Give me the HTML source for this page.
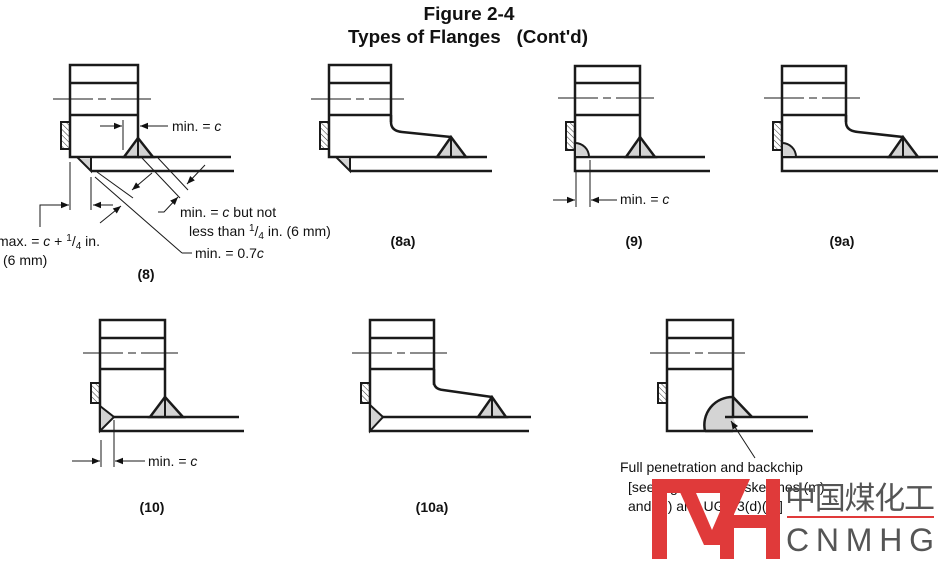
<!DOCTYPE html>
<html><head><meta charset="utf-8"><style>
html,body{margin:0;padding:0;background:#fff;}
svg{display:block;font-family:"Liberation Sans",Arial,sans-serif;}
.t{font-size:14px;fill:#111;}
.b{font-size:14px;font-weight:bold;fill:#111;}
</style></head><body>
<svg width="938" height="564" viewBox="0 0 938 564" xmlns="http://www.w3.org/2000/svg">
<defs>
<marker id="a" viewBox="0 0 10 10" refX="10" refY="5" markerWidth="10" markerHeight="8" orient="auto" markerUnits="userSpaceOnUse"><path d="M0,1 L10,5 L0,9 z" fill="#111"/></marker>
<pattern id="h" width="4" height="4" patternUnits="userSpaceOnUse" patternTransform="rotate(-45)"><line x1="0" y1="0" x2="0" y2="4" stroke="#333" stroke-width="1"/></pattern>
</defs>
<text x="469" y="20" text-anchor="middle" style="font-size:18px;font-weight:bold" fill="#111" textLength="91" lengthAdjust="spacingAndGlyphs">Figure 2-4</text>
<text x="468" y="43" text-anchor="middle" style="font-size:18px;font-weight:bold" fill="#111" xml:space="preserve" textLength="240" lengthAdjust="spacingAndGlyphs">Types of Flanges   (Cont'd)</text>

<g stroke="#1a1a1a" fill="none">
<!-- Fig 8 -->
<g stroke-width="2.5">
<rect x="70" y="65" width="68" height="92"/>
<line x1="70" y1="83" x2="138" y2="83"/><line x1="70" y1="115" x2="138" y2="115"/>
<line x1="138" y1="157" x2="231" y2="157"/><line x1="91" y1="171" x2="234" y2="171"/>
</g>
<rect x="61" y="122" width="9" height="27" fill="url(#h)" stroke-width="2"/>
<polygon points="124,157 153,157 138,138" fill="#d4d4d4" stroke-width="2.5"/><line x1="138" y1="138" x2="138" y2="157" stroke-width="2"/>
<polygon points="77,157 91,157 91,171" fill="#d4d4d4" stroke-width="2"/>
<line x1="53" y1="99" x2="152" y2="99" stroke-width="1" stroke-dasharray="40,5,8,5"/>
<g stroke-width="1">
<line x1="123" y1="120" x2="123" y2="150"/>
<line x1="100" y1="126" x2="122" y2="126" marker-end="url(#a)"/>
<line x1="168" y1="126" x2="140" y2="126" marker-end="url(#a)"/>
<line x1="70" y1="162" x2="70" y2="210"/><line x1="91" y1="177" x2="91" y2="210"/>
<polyline points="40,227 40,205 69,205" marker-end="url(#a)"/>
<line x1="113" y1="205" x2="93" y2="205" marker-end="url(#a)"/>
<line x1="100" y1="223" x2="121" y2="206" marker-end="url(#a)"/>
<line x1="97" y1="172" x2="133" y2="198"/>
<line x1="95" y1="177" x2="182" y2="253"/><line x1="182" y1="253" x2="192" y2="253"/>
<line x1="152" y1="173" x2="132" y2="190" marker-end="url(#a)"/>
<line x1="142" y1="158" x2="180" y2="198"/><line x1="158" y1="158" x2="188" y2="190"/>
<line x1="205" y1="165" x2="187" y2="184" marker-end="url(#a)"/>
<polyline points="158,212 164,212 178,197" marker-end="url(#a)"/>
</g>
<!-- Fig 8a -->
<g stroke-width="2.5">
<polyline points="391,122 391,65 329,65 329,157 487,157"/>
<line x1="329" y1="83" x2="391" y2="83"/><line x1="329" y1="115" x2="391" y2="115"/>
<path d="M391,115 L391,122 Q391,131 402,132 L451,137"/>
<line x1="350" y1="171" x2="492" y2="171"/>
</g>
<rect x="320" y="122" width="9" height="27" fill="url(#h)" stroke-width="2"/>
<polygon points="437,157 466,157 451,137" fill="#d4d4d4" stroke-width="2.5"/><line x1="451" y1="137" x2="451" y2="157" stroke-width="2"/>
<polygon points="336,157 350,157 350,171" fill="#d4d4d4" stroke-width="2"/>
<line x1="311" y1="99" x2="404" y2="99" stroke-width="1" stroke-dasharray="40,5,8,5"/>
<!-- Fig 9 -->
<g stroke-width="2.5">
<polyline points="640,157 640,66 575,66 575,171 710,171"/>
<line x1="575" y1="83" x2="640" y2="83"/><line x1="575" y1="115" x2="640" y2="115"/>
<line x1="575" y1="157" x2="705" y2="157"/>
</g>
<rect x="566" y="122" width="9" height="28" fill="url(#h)" stroke-width="2"/>
<path d="M575,143 A14,14 0 0 1 589,157 L575,157 z" fill="#d4d4d4" stroke-width="2"/>
<polygon points="626,157 655,157 640,137" fill="#d4d4d4" stroke-width="2.5"/><line x1="640" y1="137" x2="640" y2="157" stroke-width="2"/>
<line x1="558" y1="98" x2="654" y2="98" stroke-width="1" stroke-dasharray="40,5,8,5"/>
<g stroke-width="1">
<line x1="576" y1="172" x2="576" y2="207"/><line x1="590" y1="160" x2="590" y2="207"/>
<line x1="553" y1="200" x2="575" y2="200" marker-end="url(#a)"/>
<line x1="617" y1="200" x2="591" y2="200" marker-end="url(#a)"/>
</g>
<!-- Fig 9a -->
<g stroke-width="2.5">
<polyline points="846,122 846,66 782,66 782,171 938,171"/>
<line x1="782" y1="83" x2="846" y2="83"/><line x1="782" y1="115" x2="846" y2="115"/>
<path d="M846,115 L846,122 Q846,131 858,132 L903,137"/>
<line x1="782" y1="157" x2="938" y2="157"/>
</g>
<rect x="773" y="122" width="9" height="28" fill="url(#h)" stroke-width="2"/>
<path d="M782,143 A14,14 0 0 1 796,157 L782,157 z" fill="#d4d4d4" stroke-width="2"/>
<polygon points="889,157 918,157 903,137" fill="#d4d4d4" stroke-width="2.5"/><line x1="903" y1="137" x2="903" y2="157" stroke-width="2"/>
<line x1="764" y1="98" x2="860" y2="98" stroke-width="1" stroke-dasharray="40,5,8,5"/>
<!-- Fig 10 -->
<g stroke-width="2.5">
<polyline points="165,417 165,320 100,320 100,431 244,431"/>
<line x1="100" y1="338" x2="165" y2="338"/><line x1="100" y1="369" x2="165" y2="369"/>
<line x1="114" y1="417" x2="239" y2="417"/>
</g>
<rect x="91" y="383" width="9" height="20" fill="url(#h)" stroke-width="2"/>
<polygon points="100,406 114,417 100,431" fill="#d4d4d4" stroke-width="2"/>
<polygon points="150,417 183,417 165,397" fill="#d4d4d4" stroke-width="2.5"/><line x1="165" y1="397" x2="165" y2="417" stroke-width="2"/>
<line x1="83" y1="353" x2="178" y2="353" stroke-width="1" stroke-dasharray="40,5,8,5"/>
<g stroke-width="1">
<line x1="101" y1="440" x2="101" y2="467"/><line x1="114" y1="420" x2="114" y2="467"/>
<line x1="72" y1="461" x2="100" y2="461" marker-end="url(#a)"/>
<line x1="145" y1="461" x2="115" y2="461" marker-end="url(#a)"/>
</g>
<!-- Fig 10a -->
<g stroke-width="2.5">
<polyline points="434,385 434,320 370,320 370,431 529,431"/>
<line x1="370" y1="338" x2="434" y2="338"/><line x1="370" y1="369" x2="434" y2="369"/>
<path d="M434,369 L434,382 Q434,389 443,390 L492,397"/>
<line x1="383" y1="417" x2="531" y2="417"/>
</g>
<rect x="361" y="383" width="9" height="20" fill="url(#h)" stroke-width="2"/>
<polygon points="370,405 383,417 370,431" fill="#d4d4d4" stroke-width="2"/>
<polygon points="478,417 506,417 492,397" fill="#d4d4d4" stroke-width="2.5"/><line x1="492" y1="397" x2="492" y2="417" stroke-width="2"/>
<line x1="352" y1="353" x2="447" y2="353" stroke-width="1" stroke-dasharray="40,5,8,5"/>
<!-- Fig 11 -->
<path d="M705,431 A28,28 0 0 1 733,397 L752,417 L733,417 L738,431 z" fill="#d4d4d4" stroke="none"/>
<g stroke-width="2.5">
<polyline points="733,431 667,431 667,320 733,320 733,417"/>
<line x1="667" y1="338" x2="733" y2="338"/><line x1="667" y1="369" x2="733" y2="369"/>
<path d="M705,431 A28,28 0 0 1 733,397"/>
<line x1="733" y1="397" x2="752" y2="417"/>
<line x1="725" y1="417" x2="808" y2="417"/>
<line x1="705" y1="431" x2="813" y2="431"/>
</g>
<rect x="658" y="383" width="9" height="20" fill="url(#h)" stroke-width="2"/>
<line x1="650" y1="353" x2="745" y2="353" stroke-width="1" stroke-dasharray="40,5,8,5"/>
<line x1="755" y1="458" x2="731" y2="421" stroke-width="1" marker-end="url(#a)"/>
</g>

<text class="t" x="172" y="131">min. = <tspan font-style="italic">c</tspan></text>
<text class="t" x="180" y="217">min. = <tspan font-style="italic">c</tspan> but not</text>
<text class="t" x="189" y="236">less than <tspan font-size="10" dy="-5">1</tspan><tspan dy="5">/</tspan><tspan font-size="10" dy="3">4</tspan><tspan dy="-3"> in. (6 mm)</tspan></text>
<text class="t" x="195" y="258">min. = 0.7<tspan font-style="italic">c</tspan></text>
<text class="t" x="-3" y="246">max. = <tspan font-style="italic">c</tspan> + <tspan font-size="10" dy="-5">1</tspan><tspan dy="5">/</tspan><tspan font-size="10" dy="3">4</tspan><tspan dy="-3"> in.</tspan></text>
<text class="t" x="3" y="265">(6 mm)</text>
<text class="b" x="146" y="279" text-anchor="middle">(8)</text>
<text class="b" x="403" y="246" text-anchor="middle">(8a)</text>
<text class="t" x="620" y="204">min. = <tspan font-style="italic">c</tspan></text>
<text class="b" x="634" y="246" text-anchor="middle">(9)</text>
<text class="b" x="842" y="246" text-anchor="middle">(9a)</text>
<text class="t" x="148" y="466">min. = <tspan font-style="italic">c</tspan></text>
<text class="b" x="152" y="512" text-anchor="middle">(10)</text>
<text class="b" x="432" y="512" text-anchor="middle">(10a)</text>
<text class="t" x="620" y="472">Full penetration and backchip</text>
<text class="t" x="628" y="492">[see Fig. UW-13.2 sketches (m)</text>
<text class="t" x="628" y="511">and (n) and UG-93(d)(3)]</text>

<!-- watermark -->
<g fill="#e03a3a">
<rect x="652" y="479" width="15" height="80"/>
<rect x="652" y="479" width="70" height="14"/>
<polygon points="674,479 690,479 712,530 734,479 750,479 720,545 704,545"/>
<rect x="720" y="479" width="14" height="80"/>
<rect x="720" y="515" width="60" height="13"/>
<rect x="766" y="479" width="14" height="80"/>
<rect x="787" y="516" width="147" height="2"/>
</g>
<text x="785" y="509" style="font-size:31px;font-family:'Noto Sans CJK SC',sans-serif" fill="#555" textLength="150">中国煤化工</text>
<text x="786" y="551" style="font-size:32px" fill="#555" textLength="148">CNMHG</text>
</svg>
</body></html>
